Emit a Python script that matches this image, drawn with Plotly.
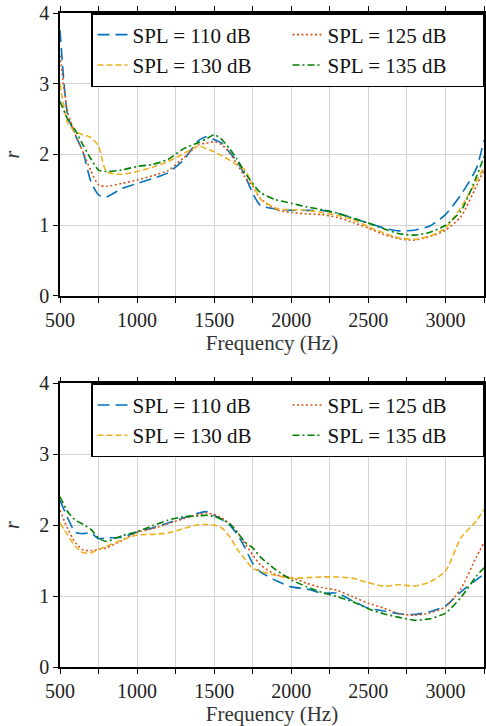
import plotly.graph_objects as go

# Frequency grid (Hz)
freq = [500, 550, 600, 650, 700, 750, 800, 900, 1000, 1100, 1200, 1300, 1400, 1450,
        1500, 1550, 1600, 1650, 1700, 1750, 1800, 1900, 2000, 2100, 2200, 2300, 2400,
        2500, 2600, 2700, 2800, 2900, 3000, 3100, 3200, 3250]

# Top panel
top_110 = [3.76, 2.55, 2.27, 2.03, 1.62, 1.43, 1.40, 1.52, 1.59, 1.66, 1.74, 1.92, 2.20, 2.25,
           2.21, 2.16, 2.03, 1.90, 1.70, 1.45, 1.28, 1.23, 1.21, 1.21, 1.21, 1.17, 1.10,
           1.03, 0.96, 0.92, 0.93, 0.99, 1.15, 1.43, 1.80, 2.20]
top_125 = [3.40, 2.60, 2.28, 2.03, 1.77, 1.57, 1.55, 1.59, 1.64, 1.70, 1.77, 1.95, 2.14, 2.16,
           2.18, 2.14, 2.02, 1.86, 1.68, 1.55, 1.38, 1.22, 1.18, 1.16, 1.15, 1.11, 1.04,
           0.96, 0.87, 0.81, 0.79, 0.84, 0.93, 1.12, 1.55, 1.78]
top_130 = [3.00, 2.45, 2.32, 2.28, 2.24, 2.12, 1.76, 1.72, 1.76, 1.82, 1.90, 2.01, 2.12, 2.08,
           2.04, 1.98, 1.92, 1.85, 1.78, 1.57, 1.37, 1.24, 1.22, 1.21, 1.18, 1.14, 1.08,
           0.98, 0.89, 0.82, 0.80, 0.85, 0.96, 1.25, 1.62, 1.82]
top_135 = [2.75, 2.50, 2.34, 2.13, 1.94, 1.78, 1.76, 1.78, 1.83, 1.86, 1.93, 2.08, 2.17, 2.22,
           2.28, 2.21, 2.08, 1.93, 1.74, 1.59, 1.46, 1.36, 1.31, 1.26, 1.22, 1.17, 1.10,
           1.03, 0.95, 0.88, 0.86, 0.90, 1.00, 1.20, 1.68, 1.97]

# Bottom panel
bot_110 = [2.35, 2.10, 1.90, 1.88, 1.89, 1.81, 1.82, 1.83, 1.90, 1.96, 2.03, 2.10, 2.17, 2.19,
           2.14, 2.08, 2.00, 1.87, 1.68, 1.46, 1.34, 1.22, 1.13, 1.10, 1.04, 1.04, 0.93,
           0.83, 0.79, 0.75, 0.74, 0.78, 0.86, 1.06, 1.23, 1.31]
bot_125 = [2.21, 1.95, 1.75, 1.65, 1.64, 1.66, 1.68, 1.78, 1.90, 1.95, 2.02, 2.09, 2.15, 2.17,
           2.15, 2.10, 2.02, 1.90, 1.74, 1.58, 1.44, 1.30, 1.26, 1.18, 1.12, 1.08, 0.99,
           0.90, 0.83, 0.75, 0.73, 0.76, 0.85, 1.10, 1.55, 1.75]
bot_130 = [2.03, 1.86, 1.70, 1.61, 1.61, 1.66, 1.70, 1.79, 1.86, 1.87, 1.89, 1.95, 2.01, 2.01,
           2.00, 1.96, 1.84, 1.66, 1.52, 1.39, 1.35, 1.29, 1.25, 1.26, 1.27, 1.27, 1.25,
           1.19, 1.14, 1.16, 1.14, 1.20, 1.35, 1.82, 2.06, 2.22]
bot_135 = [2.40, 2.19, 2.07, 2.01, 1.94, 1.82, 1.77, 1.85, 1.91, 1.99, 2.07, 2.12, 2.13, 2.14,
           2.12, 2.08, 2.02, 1.90, 1.76, 1.68, 1.55, 1.37, 1.23, 1.13, 1.05, 0.99, 0.92,
           0.82, 0.75, 0.70, 0.66, 0.68, 0.76, 0.98, 1.28, 1.40]

labels = ["SPL = 110 dB", "SPL = 125 dB", "SPL = 130 dB", "SPL = 135 dB"]
x_ticks = [500, 750, 1000, 1250, 1500, 1750, 2000, 2250, 2500, 2750, 3000, 3250]
y_ticks = [0, 1, 2, 3, 4]

styles = [
    dict(color="#0072BD", dash="12px,6px"),
    dict(color="#D95319", dash="2px,2.5px"),
    dict(color="#EDB120", dash="6px,3px"),
    dict(color="#008000", dash="7px,3px,2px,3px"),
]

FONT = "Liberation Serif"
fig = go.Figure()

panels = [
    ("x", "y", "legend", [top_110, top_125, top_130, top_135]),
    ("x2", "y2", "legend2", [bot_110, bot_125, bot_130, bot_135]),
]
for xa, ya, lg, series in panels:
    for lab, vals, st in zip(labels, series, styles):
        fig.add_trace(go.Scatter(
            x=freq, y=vals, mode="lines", name=lab, xaxis=xa, yaxis=ya, legend=lg,
            line=dict(color=st["color"], dash=st["dash"], width=1.6, shape="spline", smoothing=0.6),
        ))

tick_text = [str(v) if v % 500 == 0 and v < 3250 else "" for v in x_ticks]

xcommon = dict(range=[500, 3250], tickmode="array", tickvals=x_ticks, ticktext=tick_text,
               showline=True, linecolor="black", linewidth=1.5, mirror="ticks",
               ticks="outside", ticklen=5, tickwidth=1.2, tickcolor="black",
               showgrid=True, gridcolor="#d3d3d3", gridwidth=1, zeroline=False,
               automargin=False, ticklabeloverflow="allow",
               tickfont=dict(family=FONT, size=20, color="#222"),
               title=dict(text="Frequency (Hz)", font=dict(family=FONT, size=21, color="#333"),
                          standoff=6))
ycommon = dict(range=[0, 4], tickmode="array", tickvals=y_ticks,
               showline=True, linecolor="black", linewidth=1.5, mirror="ticks",
               ticks="outside", ticklen=5, tickwidth=1.2, tickcolor="black",
               showgrid=True, gridcolor="#d3d3d3", gridwidth=1, zeroline=False,
               automargin=False, ticklabeloverflow="allow",
               tickfont=dict(family=FONT, size=20, color="#222"),
               title=dict(text="<i>r</i>", font=dict(family=FONT, size=20, color="#333"),
                          standoff=14))

legcommon = dict(orientation="h", xanchor="right", yanchor="top", x=1,
                 bgcolor="white", bordercolor="black", borderwidth=1.5,
                 font=dict(family=FONT, size=21, color="#111"),
                 entrywidth=150, itemwidth=30, tracegroupgap=0)

fig.update_layout(
    width=486, height=726,
    margin=dict(l=60, r=2, t=13, b=59, autoexpand=False),
    paper_bgcolor="white", plot_bgcolor="white",
    xaxis=dict(domain=[0, 1], anchor="y", **xcommon),
    yaxis=dict(domain=[0.5673, 1.0], anchor="x", **ycommon),
    xaxis2=dict(domain=[0, 1], anchor="y2", **xcommon),
    yaxis2=dict(domain=[0.0, 0.4338], anchor="x2", **ycommon),
    legend=dict(y=1.0, **legcommon),
    legend2=dict(y=0.4338, **legcommon),
)

# Remove the browser's default 8px body margin so the figure fills the window exactly.
fig.write_html("out.html",
               config={"displayModeBar": False},
               post_script="document.body.style.margin='0';document.body.style.overflow='hidden';")
